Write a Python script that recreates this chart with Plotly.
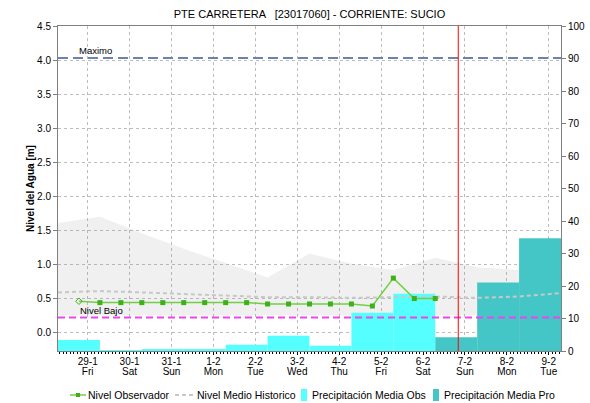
import plotly.graph_objects as go

# ---------------- data ----------------
title_text = "PTE CARRETERA   [23017060] - CORRIENTE: SUCIO"

level_times = ["2021-01-28 19:00", "2021-01-29 07:00", "2021-01-29 19:00", "2021-01-30 07:00",
               "2021-01-30 19:00", "2021-01-31 07:00", "2021-01-31 19:00", "2021-02-01 07:00",
               "2021-02-01 19:00", "2021-02-02 07:00", "2021-02-02 19:00", "2021-02-03 07:00",
               "2021-02-03 19:00", "2021-02-04 07:00", "2021-02-04 19:00", "2021-02-05 07:00",
               "2021-02-05 19:00", "2021-02-06 07:00"]
level_values = [0.46, 0.44, 0.44, 0.44, 0.44, 0.44, 0.44, 0.44, 0.44,
                0.42, 0.42, 0.42, 0.42, 0.42, 0.39, 0.80, 0.50, 0.50]

hist_times = ["2021-01-28 07:00", "2021-01-29 07:00", "2021-01-30 07:00", "2021-01-31 07:00",
              "2021-02-01 07:00", "2021-02-02 07:00", "2021-02-03 07:00", "2021-02-04 07:00",
              "2021-02-05 07:00", "2021-02-06 07:00", "2021-02-07 07:00", "2021-02-08 07:00",
              "2021-02-09 07:00"]
hist_mean = [0.59, 0.61, 0.59, 0.57, 0.54, 0.52, 0.52, 0.51, 0.52, 0.53, 0.51, 0.53, 0.58]
band_upper = [1.61, 1.70, 1.46, 1.23, 1.02, 0.81, 1.16, 1.01, 0.92, 1.10, 0.96, 0.92, 0.93]
band_lower = [0.25, 0.25, 0.25, 0.25, 0.25, 0.25, 0.25, 0.25, 0.25, 0.25, 0.25, 0.25, 0.25]

obs_days = ["2021-01-28", "2021-01-29", "2021-01-30", "2021-01-31", "2021-02-01",
            "2021-02-02", "2021-02-03", "2021-02-04", "2021-02-05"]
obs_precip = [3.4, 0.2, 0.6, 0.6, 1.9, 4.7, 1.6, 11.8, 17.6]
pro_days = ["2021-02-06", "2021-02-07", "2021-02-08"]
pro_precip = [4.2, 21.1, 34.7]

nivel_maximo = 4.03
nivel_bajo = 0.22
now_time = "2021-02-06 20:10"

tick_days = ["2021-01-29", "2021-01-30", "2021-01-31", "2021-02-01", "2021-02-02", "2021-02-03",
             "2021-02-04", "2021-02-05", "2021-02-06", "2021-02-07", "2021-02-08", "2021-02-09"]
tick_dates = ["29-1", "30-1", "31-1", "1-2", "2-2", "3-2", "4-2", "5-2", "6-2", "7-2", "8-2", "9-2"]
tick_weekdays = ["Fri", "Sat", "Sun", "Mon", "Tue", "Wed", "Thu", "Fri", "Sat", "Sun", "Mon", "Tue"]
x_range = ["2021-01-28 07:00", "2021-02-09 07:00"]

legend_names = ["Nivel Observador", "Nivel Medio Historico",
                "Precipitación Media Obs", "Precipitación Media Pro"]

# ---------------- style ----------------
FONT = "Liberation Sans, Arial, sans-serif"
C_LEVEL_LINE = "#72CF45"
C_LEVEL_MARK = "#3DB01A"
C_HIST = "#C8C8C8"
C_OBS = "#55FFFF"
C_PRO = "#45C6C6"
C_BAND = "rgba(128,128,128,0.12)"
C_MAX = "#7080B0"
C_BAJO = "#EE44EE"
DAY_MS = 86400000

W, H = 590, 403
L, R, T, B = 58, 29, 26, 52
PW, PH = W - L - R, H - T - B


def px(xp):
    return (xp - L) / PW


def py(yp):
    return (H - B - yp) / PH


fig = go.Figure()

# historical band (main y axis, drawn lowest)
fig.add_trace(go.Scatter(x=hist_times, y=band_lower, mode="lines", line=dict(width=0),
                         hoverinfo="skip", showlegend=False, yaxis="y"))
fig.add_trace(go.Scatter(x=hist_times, y=band_upper, mode="lines", line=dict(width=0),
                         fill="tonexty", fillcolor=C_BAND, showlegend=False, yaxis="y"))

# precipitation bars (right axis)
fig.add_trace(go.Bar(x=[d + " 19:00" for d in obs_days], y=obs_precip, width=DAY_MS,
                     marker=dict(color=C_OBS, line=dict(width=0)), name=legend_names[2],
                     showlegend=False, yaxis="y2"))
fig.add_trace(go.Bar(x=[d + " 19:00" for d in pro_days], y=pro_precip, width=DAY_MS,
                     marker=dict(color=C_PRO, line=dict(width=0)), name=legend_names[3],
                     showlegend=False, yaxis="y2"))

# lines on top (overlay axis matching left)
fig.add_trace(go.Scatter(x=hist_times, y=hist_mean, mode="lines", name=legend_names[1],
                         line=dict(color=C_HIST, width=2, dash="4px,3px"),
                         showlegend=False, yaxis="y3"))
symbols = ["diamond-open"] + ["square"] * (len(level_values) - 1)
fig.add_trace(go.Scatter(x=level_times, y=level_values, mode="lines+markers", name=legend_names[0],
                         line=dict(color=C_LEVEL_LINE, width=1.5),
                         marker=dict(color=C_LEVEL_MARK, size=5, symbol=symbols),
                         showlegend=False, yaxis="y3"))

y_range = [-0.27, 4.5]

shapes = [
    dict(type="line", xref="paper", x0=0, x1=1, yref="y3", y0=nivel_maximo, y1=nivel_maximo,
         line=dict(color=C_MAX, width=2, dash="10px,5px"), layer="above"),
    dict(type="line", xref="paper", x0=0, x1=1, yref="y3", y0=nivel_bajo, y1=nivel_bajo,
         line=dict(color=C_BAJO, width=2, dash="7px,4px"), layer="above"),
    dict(type="line", xref="x", x0=now_time, x1=now_time, yref="paper", y0=0, y1=1,
         line=dict(color="#FF0000", width=1), layer="above"),
]

# custom legend
ly = py(395)
shapes += [
    dict(type="line", xref="paper", yref="paper", x0=px(70), x1=px(86), y0=ly, y1=ly,
         line=dict(color=C_LEVEL_LINE, width=1.5)),
    dict(type="rect", xref="paper", yref="paper", x0=px(76), x1=px(80), y0=py(397), y1=py(393),
         fillcolor=C_LEVEL_MARK, line=dict(width=0)),
    dict(type="line", xref="paper", yref="paper", x0=px(175), x1=px(195), y0=ly, y1=ly,
         line=dict(color=C_HIST, width=2, dash="4px,3px")),
    dict(type="rect", xref="paper", yref="paper", x0=px(301), x1=px(307), y0=py(401), y1=py(389),
         fillcolor=C_OBS, line=dict(width=0)),
    dict(type="rect", xref="paper", yref="paper", x0=px(433), x1=px(439), y0=py(401), y1=py(389),
         fillcolor=C_PRO, line=dict(width=0)),
]

annotations = [
    dict(text="Maximo", xref="paper", x=px(77), yref="y3", y=nivel_maximo, xanchor="left",
         yanchor="bottom", showarrow=False, font=dict(size=9.5, color="black", family=FONT)),
    dict(text="Nivel Bajo", xref="paper", x=px(78), yref="y3", y=nivel_bajo, xanchor="left",
         yanchor="bottom", showarrow=False, font=dict(size=9.5, color="black", family=FONT)),
]
for name, xp in zip(legend_names, [86, 195, 310, 442]):
    annotations.append(dict(text=name, xref="paper", x=px(xp), yref="paper", y=ly,
                            xanchor="left", yanchor="middle", showarrow=False,
                            font=dict(size=10.5, color="black", family=FONT)))

# two-line tick labels with a tight line spacing (base size 8 -> 10.4px line step)
span = "<span style='font-size:10px'>{}</span>"
tick_text = [span.format(d) + "<br>" + span.format(w) for d, w in zip(tick_dates, tick_weekdays)]

fig.update_layout(
    width=W, height=H,
    autosize=False,
    margin=dict(l=L, r=R, t=T, b=B, pad=0, autoexpand=False),
    paper_bgcolor="white", plot_bgcolor="white",
    font=dict(family=FONT, size=10, color="black"),
    title=dict(text=title_text, x=0.5, xref="paper", y=1 - 14.5 / H, yref="container",
               xanchor="center", yanchor="middle", font=dict(size=11, color="black")),
    barmode="overlay",
    showlegend=False,
    shapes=shapes,
    annotations=annotations,
    xaxis=dict(type="date", range=x_range, tickvals=tick_days, ticktext=tick_text,
               showgrid=True, gridcolor="#BDBDBD", griddash="dot", gridwidth=1,
               showline=True, linecolor="#808080", linewidth=1, mirror=True,
               ticks="outside", ticklen=3, tickcolor="black", automargin=False,
               minor=dict(dtick=2 * 3600 * 1000, ticks="outside", ticklen=2, tickcolor="black",
                          showgrid=False),
               tickfont=dict(size=8, color="black"), zeroline=False),
    yaxis=dict(range=y_range, dtick=0.5, tickformat=".1f", showgrid=True, gridcolor="#BDBDBD",
               griddash="dot", gridwidth=1, showline=True, linecolor="#808080", linewidth=1,
               ticks="outside", ticklen=4, tickcolor="#808080", zeroline=False, automargin=False,
               tickfont=dict(size=10, color="black"),
               title=dict(text="<b>Nivel del Agua [m]</b>", standoff=0,
                          font=dict(size=10, color="black"))),
    yaxis2=dict(overlaying="y", side="right", range=[0, 100], dtick=10, showgrid=False,
                showline=True, linecolor="#808080", linewidth=1, ticks="outside", ticklen=4,
                tickcolor="#808080", zeroline=False, automargin=False,
                tickfont=dict(size=10, color="black")),
    yaxis3=dict(overlaying="y", range=y_range, visible=False, showgrid=False, zeroline=False),
)

fig.write_html("out.html", config={"responsive": False, "displayModeBar": False},
               post_script="document.body.style.margin='0px';document.body.style.padding='0px';")
